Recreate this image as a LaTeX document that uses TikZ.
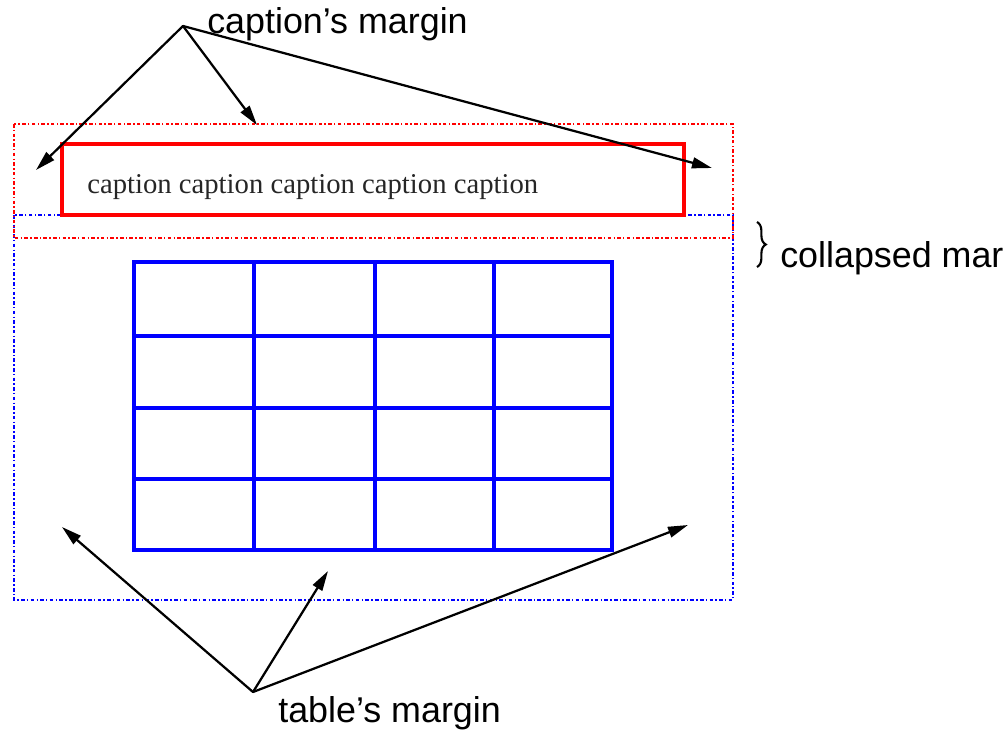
\documentclass[tikz,border=0pt]{standalone}
\usepackage{fontspec}
\setmainfont{Liberation Sans}
\newfontfamily\capfont{Liberation Serif}
\usetikzlibrary{arrows.meta,decorations.pathreplacing}

\begin{document}
\begin{tikzpicture}[x=0.025cm,y=-0.025cm,
        every node/.style={inner sep=0pt},
        marginlabel/.style={font=\fontsize{25.5}{30}\selectfont},
        marginbox/.style={line width=1.5pt,dash pattern=on 2.6pt off 1.6pt on 1pt off 1.6pt},
        solidbox/.style={draw,line width=2.8pt},
        pointer/.style={-{Triangle[length=0.5cm,width=0.27cm]},line width=1.6pt,line cap=round}
    ]
        \useasboundingbox (0,0) rectangle (1007,732);

        \draw[marginbox,blue] (14,215) rectangle (733,600);
        \draw[marginbox,red] (14,124) rectangle (733,238);

        \node[solidbox,red,minimum width=15.55cm,minimum height=1.775cm] (capbox) at (373,179.5) {};
        \node[anchor=base west,font=\capfont\fontsize{20.4}{24}\selectfont,black!85] (captext) at (87,193) {caption caption caption caption caption};

        \node[solidbox,blue,minimum width=11.95cm,minimum height=7.2cm] (tbl) at (373,406) {};
        \foreach \x in {254,375,494}
            \draw[blue,line width=2.8pt] (\x,262) -- (\x,550);
        \foreach \y in {336,408,479}
            \draw[blue,line width=2.8pt] (134,\y) -- (612,\y);

        \node[marginlabel,anchor=base west] (capmargin) at (207,33) {caption's margin};
        \coordinate (capsrc) at (183,26);
        \coordinate (capleft) at (36,170);
        \coordinate (captop) at (257,125);
        \coordinate (capright) at (712,168);
        \draw[pointer] (capsrc) -- (capleft);
        \draw[pointer] (capsrc) -- (captop);
        \draw[pointer] (capsrc) -- (capright);

        \node[marginlabel,anchor=base west] (tabmargin) at (278,722) {table's margin};
        \coordinate (tabsrc) at (253,692);
        \coordinate (tableft) at (62,527);
        \coordinate (tabbottom) at (328,571);
        \coordinate (tabright) at (688,525);
        \draw[pointer] (tabsrc) -- (tableft);
        \draw[pointer] (tabsrc) -- (tabbottom);
        \draw[pointer] (tabsrc) -- (tabright);

        \coordinate (bracetop) at (757,222);
        \coordinate (bracebot) at (757,267);
        \draw[decorate,decoration={brace,amplitude=0.22cm},line width=1.5pt] (bracetop) -- (bracebot);
        \node[marginlabel,anchor=base west] (collapsed) at (780,267) {collapsed mar};
    \end{tikzpicture}
\end{document}
